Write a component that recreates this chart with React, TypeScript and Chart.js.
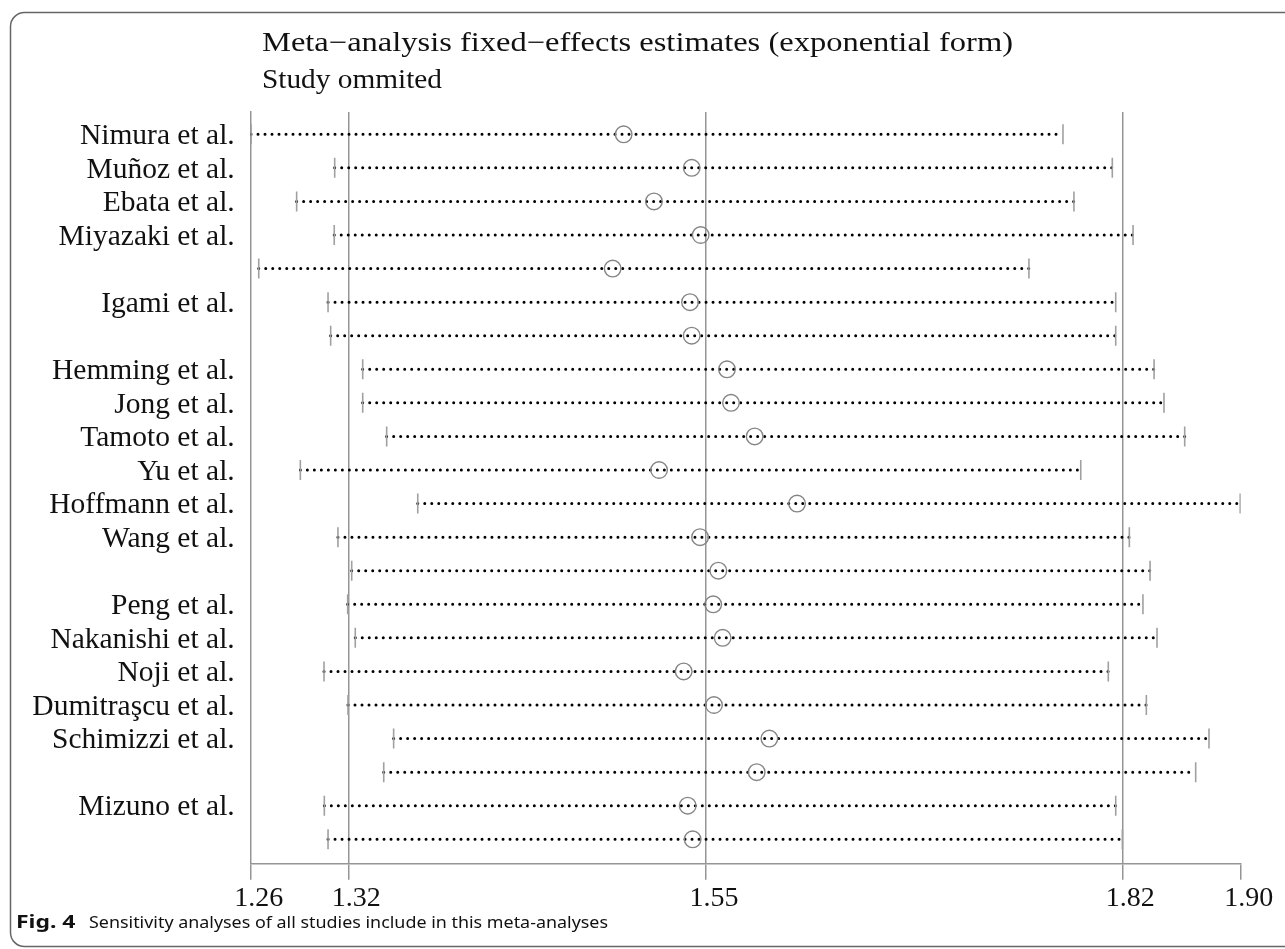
import React, { useEffect, useRef } from "react";
import { Chart, registerables } from "chart.js";

Chart.register(...registerables);

const studyLabels = [
  "Nimura et al.", "Muñoz et al.", "Ebata et al.", "Miyazaki et al.", "",
  "Igami et al.", "", "Hemming et al.", "Jong et al.", "Tamoto et al.",
  "Yu et al.", "Hoffmann et al.", "Wang et al.", "", "Peng et al.",
  "Nakanishi et al.", "Noji et al.", "Dumitraşcu et al.", "Schimizzi et al.", "",
  "Mizuno et al.", "",
];

const lowerCI = [
  1.2602, 1.3143, 1.2897, 1.314, 1.2652, 1.31, 1.3117, 1.3324, 1.3324, 1.3479,
  1.2921, 1.368, 1.3164, 1.3253, 1.3227, 1.3276, 1.3074, 1.3229, 1.3524, 1.346,
  1.3076, 1.31,
];

const estimates = [
  1.5011, 1.5451, 1.5207, 1.5509, 1.494, 1.544, 1.5451, 1.5679, 1.5705, 1.5858,
  1.524, 1.6132, 1.5505, 1.5623, 1.559, 1.5651, 1.5399, 1.5595, 1.5953, 1.5871,
  1.5425, 1.5457,
];

const upperCI = [
  1.7851, 1.817, 1.7922, 1.8304, 1.7631, 1.8192, 1.8192, 1.844, 1.8504, 1.8638,
  1.7966, 1.8997, 1.828, 1.8414, 1.8368, 1.8459, 1.8144, 1.839, 1.8795, 1.8709,
  1.8192, 1.8235,
];

const tickValues = [1.26, 1.3231, 1.5543, 1.8235, 1.9];
const tickLabels = ["1.26", "1.32", "1.55", "1.82", "1.90"];
const axisMin = 1.26;
const axisMax = 1.9;

const titleLines = [
  "Meta\u2212analysis fixed\u2212effects estimates (exponential form)",
  "Study ommited",
];
const captionBold = "Fig. 4";
const captionText = "Sensitivity analyses of all studies include in this meta-analyses";

const SERIF = '"Liberation Serif", "Times New Roman", serif';
const SANS = '"Noto Sans", "Open Sans", sans-serif';

function fitText(ctx: CanvasRenderingContext2D, text: string, x: number, y: number, target: number) {
  const w = ctx.measureText(text).width;
  const sx = target / w;
  ctx.save();
  ctx.translate(x, y);
  ctx.scale(sx, 1);
  ctx.fillText(text, 0, 0);
  ctx.restore();
}

const decorPlugin = {
  id: "decor",
  beforeDraw(chart: any) {
    const ctx = chart.ctx as CanvasRenderingContext2D;
    ctx.save();
    ctx.fillStyle = "#ffffff";
    ctx.fillRect(0, 0, chart.width, chart.height);
    ctx.strokeStyle = "#666666";
    ctx.lineWidth = 1.5;
    ctx.beginPath();
    (ctx as any).roundRect(10.5, 12.5, 1400, 934, 14);
    ctx.stroke();
    ctx.restore();
  },
  afterDraw(chart: any) {
    const ctx = chart.ctx as CanvasRenderingContext2D;
    ctx.save();
    ctx.fillStyle = "#111111";
    ctx.textBaseline = "alphabetic";
    ctx.textAlign = "left";
    ctx.font = `27px ${SERIF}`;
    const titleWidths = [751, 180];
    titleLines.forEach((t, i) => {
      fitText(ctx, t, 262, 51 + i * 37, titleWidths[i]);
    });
    ctx.font = `bold 17px ${SANS}`;
    fitText(ctx, captionBold, 16, 927.5, 59.5);
    ctx.font = `17px ${SANS}`;
    fitText(ctx, captionText, 89, 927.5, 519);
    ctx.restore();
  },
};

export default function App() {
  const canvasRef = useRef<HTMLCanvasElement | null>(null);

  useEffect(() => {
    if (!canvasRef.current) return;

    const ciDatasets = studyLabels.map((_, i) => ({
      type: "line" as const,
      data: [
        { x: lowerCI[i], y: i },
        { x: upperCI[i], y: i },
      ],
      borderColor: "#000000",
      borderWidth: 3,
      borderDash: [0, 7],
      borderCapStyle: "round" as const,
      pointRadius: 0,
      pointHoverRadius: 0,
      fill: false,
      showLine: true,
      order: 3,
    }));

    const endPoints: { x: number; y: number }[] = [];
    studyLabels.forEach((_, i) => {
      endPoints.push({ x: lowerCI[i], y: i });
      endPoints.push({ x: upperCI[i], y: i });
    });

    const chart = new Chart(canvasRef.current, {
      type: "scatter",
      data: {
        datasets: [
          ...ciDatasets,
          {
            type: "scatter" as const,
            data: endPoints,
            pointStyle: "line",
            rotation: 90,
            pointRadius: 10,
            borderColor: "#a0a0a0",
            borderWidth: 1.6,
            backgroundColor: "#a0a0a0",
            order: 2,
          },
          {
            type: "scatter" as const,
            data: estimates.map((v, i) => ({ x: v, y: i })),
            pointStyle: "circle",
            pointRadius: 8.3,
            borderColor: "#858585",
            borderWidth: 1.4,
            backgroundColor: "rgba(0,0,0,0)",
            order: 1,
          },
        ] as any,
      },
      options: {
        animation: false,
        responsive: false,
        events: [],
        layout: { padding: { left: 0, right: 44.3, top: 112, bottom: 0 } },
        plugins: {
          legend: { display: false },
          tooltip: { enabled: false },
          title: { display: false },
        },
        scales: {
          x: {
            type: "linear",
            min: axisMin,
            max: axisMax,
            afterBuildTicks: (s: any) => {
              s.ticks = tickValues.map((v) => ({ value: v }));
            },
            afterFit: (s: any) => {
              s.height = 85.3;
            },
            ticks: {
              autoSkip: false,
              maxRotation: 0,
              labelOffset: 8,
              padding: 2,
              color: "#111111",
              font: { family: SERIF, size: 28 },
              callback: (_v: any, i: number) => tickLabels[i],
            },
            grid: {
              color: (c: any) => (c.index >= 1 && c.index <= 3 ? "#959595" : "rgba(0,0,0,0)"),
              lineWidth: 1.5,
              tickColor: "#959595",
              tickLength: 16,
              drawTicks: true,
            },
            border: { display: true, color: "#959595", width: 1.5 },
          },
          y: {
            type: "linear",
            reverse: true,
            min: -0.664,
            max: 21.727,
            afterBuildTicks: (s: any) => {
              s.ticks = studyLabels.map((_, i) => ({ value: i }));
            },
            afterFit: (s: any) => {
              s.width = 250.7;
            },
            ticks: {
              autoSkip: false,
              padding: 16,
              labelOffset: 2,
              color: "#111111",
              font: { family: SERIF, size: 29.5 },
              callback: (v: any) => studyLabels[Math.round(v)] ?? "",
            },
            grid: {
              color: "rgba(0,0,0,0)",
              drawTicks: false,
              tickLength: 0,
            },
            border: { display: true, color: "#959595", width: 1.5 },
          },
        },
      } as any,
      plugins: [decorPlugin],
    });

    return () => chart.destroy();
  }, []);

  return (
    <div style={{ position: "fixed", left: 0, top: 0, width: 1285, height: 949 }}>
      <canvas ref={canvasRef} width={1285} height={949} style={{ display: "block" }} />
    </div>
  );
}
